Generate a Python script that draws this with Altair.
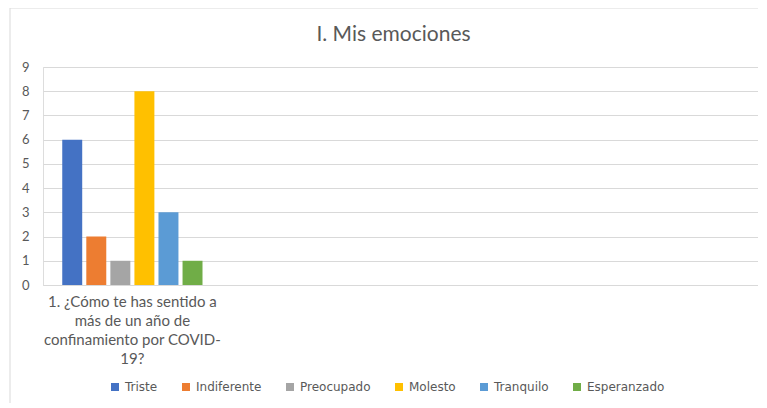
import altair as alt
import pandas as pd

chart_title = "I. Mis emociones"
question_lines = ["1. ¿Cómo te has sentido a", "más de un año de", "confinamiento por COVID-", "19?"]
emotions = ["Triste", "Indiferente", "Preocupado", "Molesto", "Tranquilo", "Esperanzado"]
counts = [6, 2, 1, 8, 3, 1]
colors = ["#4472C4", "#ED7D31", "#A5A5A5", "#FFC000", "#5B9BD5", "#70AD47"]
empty_slots = ["_2", "_3", "_4"]
y_ticks = list(range(10))

question = "|".join(question_lines)
df = pd.DataFrame({"pregunta": [question] * len(emotions), "emocion": emotions, "n": counts})

label_expr = "indexof(['_2','_3','_4'], datum.value) >= 0 ? '' : split(datum.value, '|')"

bars = alt.Chart(df).mark_bar().encode(
    x=alt.X(
        "pregunta:N",
        sort=None,
        scale=alt.Scale(domain=[question] + empty_slots, paddingInner=0, paddingOuter=0),
        axis=alt.Axis(
            title=None, labelExpr=label_expr, labelAngle=0, ticks=False, domain=True, grid=False,
            domainColor="#D9D9D9", labelFontSize=15, labelColor="#595959", labelPadding=9,
            labelLineHeight=19, labelFont="Lato", labelLimit=300, labelBaseline="top",
        ),
    ),
    xOffset=alt.XOffset("emocion:N", scale=alt.Scale(domain=emotions, paddingInner=0.17, paddingOuter=0.80)),
    y=alt.Y(
        "n:Q",
        scale=alt.Scale(domain=[0, 9]),
        axis=alt.Axis(
            values=y_ticks, title=None, ticks=False, domain=False, gridColor="#D9D9D9",
            labelColor="#595959", labelFontSize=13, labelPadding=14, labelFont="Lato",
        ),
    ),
    color=alt.Color(
        "emocion:N",
        scale=alt.Scale(domain=emotions, range=colors),
        legend=alt.Legend(
            title=None, orient="none", direction="horizontal", legendX=66, legendY=314,
            symbolType="square", symbolSize=64, labelFontSize=12, labelColor="#595959",
            labelFont="DejaVu Sans", columnPadding=22, symbolStrokeWidth=0,
        ),
    ),
)

frame_df = pd.DataFrame({"k": [0]})
frame_top = alt.Chart(frame_df).mark_rule(color="#D9D9D9", strokeWidth=1).encode(
    x=alt.value(-33), x2=alt.value(724), y=alt.value(-59)
)
frame_left = alt.Chart(frame_df).mark_rule(color="#D9D9D9", strokeWidth=1).encode(
    x=alt.value(-33), y=alt.value(-59), y2=alt.value(341)
)

chart = alt.layer(bars, frame_top, frame_left).properties(
    width=715,
    height=218,
    autosize=alt.AutoSizeParams(type="none"),
    padding={"left": 35, "top": 59, "right": 0, "bottom": 118},
    title=alt.TitleParams(
        chart_title, fontSize=21, font="Lato", fontWeight="normal", color="#595959",
        offset=-37, anchor="middle", dx=-7,
    ),
).configure_view(stroke=None).configure(background="white")

chart.save("out.html", embed_options={"renderer": "svg", "actions": False})
